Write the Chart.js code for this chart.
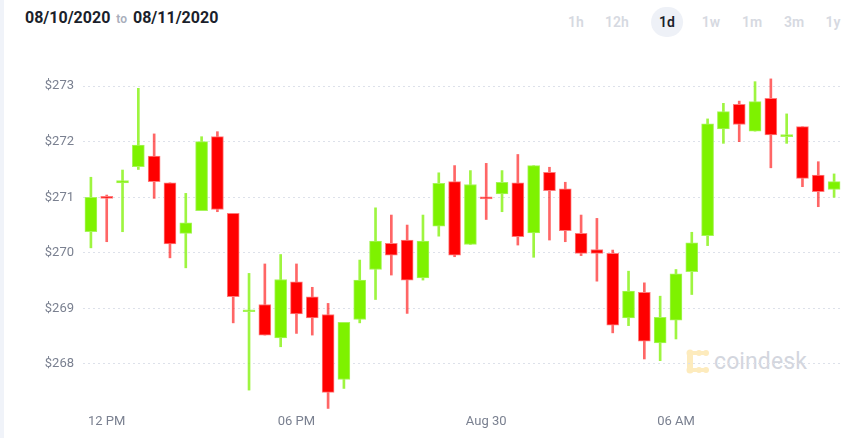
<!DOCTYPE html>
<html>
<head>
<meta charset="utf-8">
<script src="https://cdn.jsdelivr.net/npm/chart.js@4"></script>
<style>
  body { margin: 0; background: #fff; font-family: Roboto, "Liberation Sans", Arial, sans-serif; }
  .wrap { position: relative; width: 867px; height: 438px; overflow: hidden; }
  .strip { position: absolute; left: 0; top: 0; width: 4px; height: 438px; background: #f0f3f9; }
  .range { position: absolute; left: 25px; top: 8px; font-size: 16px; font-weight: 700; color: #1b1f2b; }
  .range span { font-size: 12px; font-weight: 600; color: #a9aebb; margin: 0 6px; }
  .periods div { position: absolute; top: 7px; transform: translateX(-50%); font-size: 14px; font-weight: 600; color: #d6d9e1; height: 30px; line-height: 30px; padding: 0 8px; border-radius: 15px; }
  .periods div.on { color: #1b1f2b; background: #eef1f7; }
  .mark { position: absolute; left: 686px; top: 348px; display: flex; align-items: center; }
  .mark span { font-size: 23px; color: #d3d6de; margin-left: 4px; letter-spacing: 0.1px; }
  canvas { position: absolute; left: 0; top: 0; }
</style>
</head>
<body>
<div class="wrap">
  <div class="strip"></div>
  <div class="range">08/10/2020<span>to</span>08/11/2020</div>
  <div class="periods">
    <div style="left:576px">1h</div>
    <div style="left:617px">12h</div>
    <div class="on" style="left:667px">1d</div>
    <div style="left:711px">1w</div>
    <div style="left:752px">1m</div>
    <div style="left:794px">3m</div>
    <div style="left:833px">1y</div>
  </div>
  <div class="mark">
    <svg width="24" height="25" viewBox="0 0 24 25">
      <g fill="#fdebbd">
        <circle cx="4" cy="4" r="3.5"/><circle cx="13" cy="4" r="3"/><circle cx="20" cy="4" r="3"/>
        <rect x="1" y="4" width="6" height="17" rx="3"/>
        <circle cx="4" cy="21" r="3.5"/><circle cx="13" cy="21" r="3"/><circle cx="20" cy="21" r="3"/>
        <rect x="4" y="2" width="16" height="4" rx="2"/><rect x="4" y="19" width="16" height="4" rx="2"/>
      </g>
    </svg>
    <span>coindesk</span>
  </div>
  <canvas id="myChart" width="867" height="438"></canvas>
</div>
<script>
// half-hour candles, 11:30 -> 11:00 next day
const times = [
  "11:30", "12:00", "12:30", "13:00", "13:30", "14:00", "14:30", "15:00",
  "15:30", "16:00", "16:30", "17:00", "17:30", "18:00", "18:30", "19:00",
  "19:30", "20:00", "20:30", "21:00", "21:30", "22:00", "22:30", "23:00",
  "23:30", "00:00", "00:30", "01:00", "01:30", "02:00", "02:30", "03:00",
  "03:30", "04:00", "04:30", "05:00", "05:30", "06:00", "06:30", "07:00",
  "07:30", "08:00", "08:30", "09:00", "09:30", "10:00", "10:30", "11:00"
];
const opens = [
  270.38, 271.00, 271.26, 271.55, 271.74, 271.26, 270.35, 270.76,
  272.09, 270.71, 268.94, 269.07, 268.47, 269.48, 269.21, 268.89,
  267.72, 268.80, 269.70, 270.17, 270.23, 269.55, 270.48, 271.28,
  270.15, 270.99, 271.06, 271.26, 270.36, 271.45, 271.15, 270.35,
  270.06, 269.99, 268.83, 269.29, 268.38, 268.79, 269.66, 270.31,
  272.23, 272.67, 272.19, 272.78, 272.09, 272.27, 271.40, 271.14
];
const closes = [
  271.00, 270.98, 271.30, 271.94, 271.28, 270.16, 270.54, 272.00,
  270.78, 269.21, 268.97, 268.52, 269.52, 268.90, 268.83, 267.49,
  268.75, 269.51, 270.21, 269.96, 269.51, 270.21, 271.25, 269.96,
  271.23, 270.97, 271.27, 270.29, 271.57, 271.12, 270.40, 269.99,
  269.99, 268.70, 269.31, 268.41, 268.84, 269.62, 270.18, 272.32,
  272.54, 272.31, 272.72, 272.12, 272.12, 271.34, 271.10, 271.28
];
const highs = [
  271.36, 271.04, 271.49, 272.96, 272.14, 271.26, 271.07, 272.09,
  272.18, 270.71, 269.63, 269.80, 269.97, 269.80, 269.38, 269.09,
  268.75, 269.87, 270.81, 270.68, 270.50, 270.68, 271.44, 271.57,
  271.48, 271.61, 271.48, 271.77, 271.57, 271.54, 271.27, 270.68,
  270.62, 270.05, 269.67, 269.46, 269.22, 269.70, 270.37, 272.41,
  272.69, 272.73, 273.08, 273.13, 272.50, 272.27, 271.64, 271.42
];
const lows = [
  270.09, 270.20, 270.38, 271.50, 270.98, 269.91, 269.73, 270.76,
  270.74, 268.74, 267.53, 268.52, 268.31, 268.55, 268.52, 267.20,
  267.56, 268.74, 269.16, 269.60, 268.91, 269.51, 270.30, 269.93,
  270.15, 270.60, 270.74, 270.14, 269.92, 270.23, 270.20, 269.95,
  269.49, 268.56, 268.69, 268.09, 268.06, 268.45, 269.25, 270.13,
  271.97, 272.00, 272.19, 271.53, 271.97, 271.19, 270.83, 271.00
];
const yTicks = [268, 269, 270, 271, 272, 273];
const xTickLabels = { "12:00": "12 PM", "18:00": "06 PM", "00:00": "Aug 30", "06:00": "06 AM" };

const up = opens.map((o, i) => closes[i] >= o);
const bodyColor = up.map((u) => (u ? "#7ef200" : "#ff0000"));
const bodyEdge = up.map((u) => (u ? "#a6f55a" : "#ff7a7a"));
const wickColor = up.map((u) => (u ? "rgba(126,242,0,0.75)" : "rgba(255,0,0,0.6)"));

const ctx = document.getElementById("myChart");

new Chart(ctx, {
  type: "bar",
  data: {
    labels: times,
    datasets: [
      {
        label: "body",
        data: opens.map((o, i) => [o, closes[i]]),
        backgroundColor: bodyColor,
        borderColor: bodyEdge,
        borderWidth: 1,
        borderSkipped: false,
        barThickness: 12,
        minBarLength: 2,
        grouped: false,
        order: 0,
      },
      {
        label: "wick",
        data: lows.map((l, i) => [l, highs[i]]),
        backgroundColor: wickColor,
        borderWidth: 0,
        barThickness: 2,
        grouped: false,
        order: 1,
      },
    ],
  },
  options: {
    responsive: false,
    animation: false,
    layout: { padding: { top: 75, right: 25, left: 0, bottom: 0 } },
    plugins: { legend: { display: false }, tooltip: { enabled: false } },
    scales: {
      x: {
        offset: true,
        grid: { display: false, drawTicks: false },
        border: { display: false },
        afterFit: (axis) => { axis.height = 24; },
        ticks: {
          autoSkip: false,
          maxRotation: 0,
          padding: 0,
          color: "#7a8090",
          font: { family: "Roboto", size: 13 },
          callback: function (value) {
            return xTickLabels[times[value]] || "";
          },
        },
      },
      y: {
        min: 267.1,
        max: 273.2,
        afterFit: (axis) => { axis.width = 83; },
        afterBuildTicks: (axis) => { axis.ticks = yTicks.map((v) => ({ value: v })); },
        grid: { color: "#dde1ea", lineWidth: 1, drawTicks: false },
        border: { display: false, dash: [2, 3] },
        ticks: {
          padding: 9,
          color: "#7a8090",
          font: { family: "Roboto", size: 13 },
          callback: (v) => "$" + v,
        },
      },
    },
  },
});
</script>
</body>
</html>
